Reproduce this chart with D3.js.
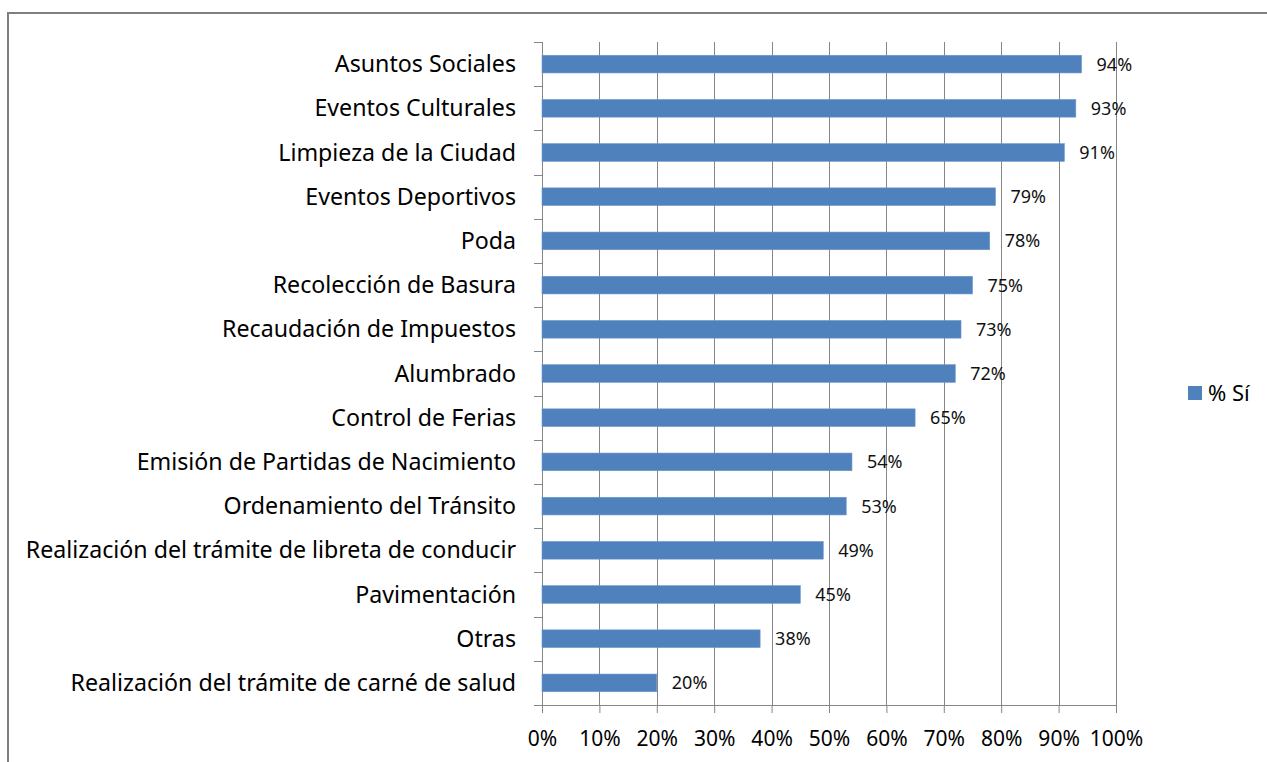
<!DOCTYPE html>
<head>
  <meta charset="utf-8">
  <script src="https://cdn.jsdelivr.net/npm/d3@7"></script>
</head>
<style>
  body { margin: 0; background: #fff; }
  text { font-family: "Noto Sans", "Open Sans", sans-serif; fill: #000; }
</style>
<body>
<script>
var categories = [
  "Asuntos Sociales",
  "Eventos Culturales",
  "Limpieza de la Ciudad",
  "Eventos Deportivos",
  "Poda",
  "Recolección de Basura",
  "Recaudación de Impuestos",
  "Alumbrado",
  "Control de Ferias",
  "Emisión de Partidas de Nacimiento",
  "Ordenamiento del Tránsito",
  "Realización del trámite de libreta de conducir",
  "Pavimentación",
  "Otras",
  "Realización del trámite de carné de salud"
];
var values = [0.94, 0.93, 0.91, 0.79, 0.78, 0.75, 0.73, 0.72, 0.65, 0.54, 0.53, 0.49, 0.45, 0.38, 0.20];
var valueLabels = ["94%", "93%", "91%", "79%", "78%", "75%", "73%", "72%", "65%", "54%", "53%", "49%", "45%", "38%", "20%"];
var xTicks = [0, 0.1, 0.2, 0.3, 0.4, 0.5, 0.6, 0.7, 0.8, 0.9, 1];
var seriesName = "% Sí";

var width = 1267, height = 762,
    margin = {top: 42, left: 542, right: 151, bottom: 57};

var svg = d3.select("body").append("svg")
    .attr("width", width)
    .attr("height", height);

// outer frame
svg.append("path")
    .attr("d", "M8,762V13H1267")
    .attr("fill", "none")
    .attr("stroke", "#7f7f7f")
    .attr("stroke-width", 2);

var g = svg.append("g")
    .attr("transform", "translate(" + margin.left + "," + margin.top + ")");

var w = width - margin.left - margin.right,
    h = height - margin.top - margin.bottom;

var x = d3.scaleLinear().domain([0, 1]).range([0, w]);
var y = d3.scaleBand().domain(categories).range([0, h]).paddingInner(0.6).paddingOuter(0.3);

// gridlines
g.selectAll(".grid")
    .data(xTicks)
  .enter().append("line")
    .attr("class", "grid")
    .attr("x1", function(d) { return Math.round(x(d)) + 0.5; })
    .attr("x2", function(d) { return Math.round(x(d)) + 0.5; })
    .attr("y1", 0)
    .attr("y2", h)
    .attr("stroke", "#868686");

// x axis
var xAxis = g.append("g")
    .attr("transform", "translate(0," + h + ")")
    .call(d3.axisBottom(x).tickValues(xTicks).tickFormat(d3.format(".0%")).tickSize(8).tickSizeOuter(0));
xAxis.select(".domain").attr("stroke", "#868686");
xAxis.selectAll(".tick line").attr("stroke", "#868686");
xAxis.selectAll(".tick text")
    .attr("y", 26)
    .attr("dy", "0.71em")
    .style("font-size", "21px");

// y axis: ticks between categories
var step = y.step();
var yAxis = g.append("g");
yAxis.append("line")
    .attr("x1", 0.5).attr("x2", 0.5)
    .attr("y1", 0).attr("y2", h)
    .attr("stroke", "#868686");
yAxis.selectAll(".ytick")
    .data(d3.range(categories.length + 1))
  .enter().append("line")
    .attr("x1", -8).attr("x2", 0)
    .attr("y1", function(d) { return Math.round(d * step) + 0.5; })
    .attr("y2", function(d) { return Math.round(d * step) + 0.5; })
    .attr("stroke", "#868686");
yAxis.selectAll(".ylabel")
    .data(categories)
  .enter().append("text")
    .attr("x", -26)
    .attr("y", function(d) { return y(d) + y.bandwidth() / 2; })
    .attr("dy", "0.35em")
    .attr("text-anchor", "end")
    .style("font-size", "23.2px")
    .text(function(d) { return d; });

// bars
g.selectAll(".bar")
    .data(values)
  .enter().append("rect")
    .attr("class", "bar")
    .attr("x", 0)
    .attr("y", function(d, i) { return y(categories[i]); })
    .attr("width", function(d) { return x(d); })
    .attr("height", y.bandwidth())
    .attr("fill", "#4f81bd")
    .attr("stroke", "#6d97ca")
    .attr("stroke-width", 0.6);

// value labels
g.selectAll(".vlabel")
    .data(values)
  .enter().append("text")
    .attr("x", function(d) { return x(d) + 15; })
    .attr("y", function(d, i) { return y(categories[i]) + y.bandwidth() / 2; })
    .attr("dy", "0.36em")
    .style("font-size", "18px")
    .style("fill", "#111")
    .text(function(d, i) { return valueLabels[i]; });

// legend
var legend = svg.append("g").attr("transform", "translate(1188,386)");
legend.append("rect")
    .attr("width", 14).attr("height", 14)
    .attr("fill", "#4f81bd");
legend.append("text")
    .attr("x", 20).attr("y", 7)
    .attr("dy", "0.36em")
    .style("font-size", "22px")
    .text(seriesName);
</script>
</body>
